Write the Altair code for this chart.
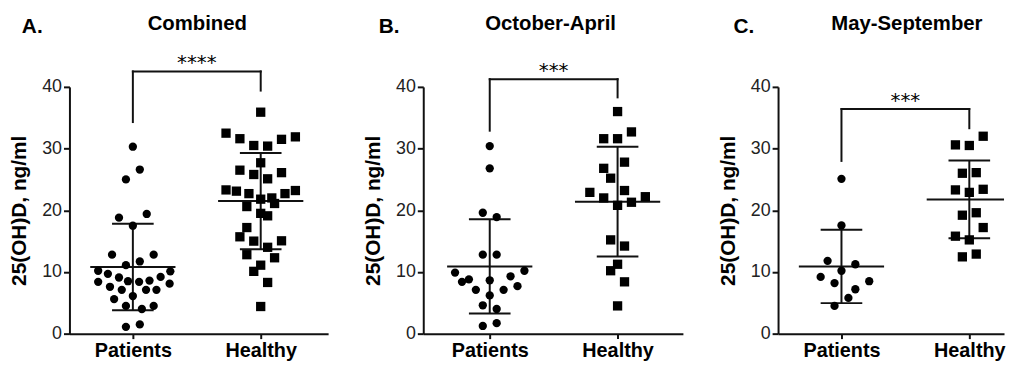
import altair as alt
import pandas as pd

FONT = "Liberation Sans"
INK = "#111111"

panel_titles = ["Combined", "October-April", "May-September"]
panel_letters = ["A.", "B.", "C."]
groups = ["Patients", "Healthy"]
group_pos = [1, 2]

# ---- values (ng/ml) and horizontal spread slots ----
a_patients = [30.3, 26.6, 25.0, 18.8, 19.4, 17.5, 12.8, 12.8, 11.1, 11.7, 10.2, 10.1, 9.7, 9.1,
              8.4, 8.5, 8.4, 8.6, 9.2, 8.1, 7.6, 7.1, 7.1, 7.1, 6.1, 5.6, 4.5, 4.5, 4.0, 1.1, 1.5]
a_patients_slot = [0, 1, -1, -2, 2, 0, -3, 3, -1, 1, -5, 5.4, -3.6, -2, -5, -0.7, 0.9, 2.4, 4,
                   5.3, -3.3, -1.6, 1.9, 3.4, 0, -2.7, -1, 3, 1.3, -1, 1]
a_healthy = [35.9, 32.5, 31.6, 31.9, 31.5, 30.5, 30.4, 27.7, 26.5, 26.1, 25.8, 25.1, 23.3, 23.1,
             22.7, 22.7, 23.2, 21.8, 22.0, 21.1, 20.6, 19.5, 19.1, 17.2, 15.7, 15.0, 15.05, 14.0,
             12.8, 12.3, 11.1, 10.1, 8.3, 4.4]
a_healthy_slot = [0, -5, -3, 5, 3, -1, 1, 0, -3, 3, -1, 1, -5, -3.5, -1.7, 3.5, 5, 0, 1.6, 2,
                  -2, 0, 1, -2, -3, -1, 3, 1, -2, 2, 0, -1, 1, 0]

b_patients = [30.4, 26.8, 19.6, 18.9, 12.8, 12.8, 9.9, 10.2, 8.4, 8.8, 8.65, 9.3, 7.7, 7.1, 7.1,
              6.2, 4.6, 4.0, 1.25, 1.7]
b_patients_slot = [0, 0, -1, 1, -1, 1, -5, 5, -4, -3, 0, 3, 4, -2, 2, 0, -1, 1, -1, 1]
b_healthy = [36.0, 32.7, 31.6, 31.6, 27.8, 26.8, 25.2, 23.2, 22.9, 22.0, 22.2, 20.8, 21.3, 15.2,
             14.2, 11.25, 10.2, 8.4, 4.5]
b_healthy_slot = [0, 2, -2, 0, 1, -2, -1, 1, -4, -2, 4, 0, 2, -1, 1, 0, -1, 1, 0]

c_patients = [25.1, 17.55, 11.8, 11.25, 10.2, 9.2, 8.2, 8.5, 7.2, 5.8, 4.5]
c_patients_slot = [0, 0, -2, 2, 0, -3, -1, 4, 2, 1, -1]
c_healthy = [32.0, 30.6, 30.5, 26.0, 26.1, 23.3, 23.4, 22.9, 19.2, 19.6, 17.2, 15.8, 15.2, 12.45, 12.9]
c_healthy_slot = [2, -2, 0, -1, 1, -2, 2, 0, -1, 1, 2, -2, 0, -1, 1]

# mean and SD per panel (as drawn)
mean_patients = [10.8, 10.9, 10.9]
sd_patients = [7.0, 7.65, 5.95]
mean_healthy = [21.5, 21.4, 21.75]
sd_healthy = [7.8, 8.9, 6.3]

# significance brackets (ng/ml levels)
bracket_top = [42.5, 41.25, 36.4]
bracket_left = [34.3, 32.9, 28.0]
bracket_right = [39.4, 38.3, 33.3]
stars = ["****", "***", "***"]

values = [(a_patients, a_patients_slot, a_healthy, a_healthy_slot),
          (b_patients, b_patients_slot, b_healthy, b_healthy_slot),
          (c_patients, c_patients_slot, c_healthy, c_healthy_slot)]

# ---- layout / style ----
PLOT_W = [261, 262, 228]
X0 = [0.504, 0.48, 0.504]
TITLE_DX = [-1.5, -2.5, 16]
LETTER_X = [-48, -45, -45]
PLOT_H = 249
PX_PER_UNIT = 129.0
SLOT = 7.0 / PX_PER_UNIT
MEAN_HALF = 43 / PX_PER_UNIT
CAP_HALF = 21 / PX_PER_UNIT


def make_panel(i):
    pv, ps, hv, hs = values[i]
    w = PLOT_W[i]
    xmin = X0[i]
    xmax = xmin + w / PX_PER_UNIT
    xscale = alt.Scale(domain=[xmin, xmax], nice=False, zero=False)
    yscale = alt.Scale(domain=[0, 40], nice=False, zero=True)
    xaxis = alt.Axis(values=group_pos, labelExpr="datum.value == 1 ? 'Patients' : 'Healthy'",
                     title=None, grid=False, domainColor=INK, domainWidth=2, tickColor=INK,
                     tickWidth=2, tickSize=5, labelFont=FONT, labelFontSize=20,
                     labelFontWeight="bold", labelColor="black", labelPadding=2,
                     labelFlush=False, labelOverlap=False)
    yaxis = alt.Axis(values=[0, 10, 20, 30, 40], title="25(OH)D, ng/ml", titleFont=FONT,
                     titleFontSize=21, titleFontWeight="bold", titleColor="black",
                     titlePadding=12, labelFont=FONT, labelFontSize=18, labelColor="#222222",
                     labelPadding=2, tickSize=6, tickWidth=2, tickColor=INK, domainWidth=2,
                     domainColor=INK, grid=False, labelFlush=False)

    def X(f):
        return alt.X(f, type="quantitative", scale=xscale, axis=xaxis)

    def Y(f):
        return alt.Y(f, type="quantitative", scale=yscale, axis=yaxis)

    pts = pd.DataFrame({
        "group": ["Patients"] * len(pv) + ["Healthy"] * len(hv),
        "value": pv + hv,
        "slot": ps + hs,
    })
    pts["x"] = pts["group"].map({"Patients": 1, "Healthy": 2}) + pts["slot"] * SLOT

    points = alt.Chart(pts).mark_point(filled=True, opacity=1, strokeWidth=0).encode(
        x=X("x"), y=Y("value"),
        shape=alt.Shape("group:N", scale=alt.Scale(domain=groups, range=["circle", "square"]), legend=None),
        size=alt.Size("group:N", scale=alt.Scale(domain=groups, range=[70, 88]), legend=None),
        color=alt.value("black"),
    )

    summ = pd.DataFrame({
        "group": groups,
        "xc": group_pos,
        "mean": [mean_patients[i], mean_healthy[i]],
        "sd": [sd_patients[i], sd_healthy[i]],
    })
    summ["lo"] = summ["mean"] - summ["sd"]
    summ["hi"] = summ["mean"] + summ["sd"]
    summ["xm1"] = summ["xc"] - MEAN_HALF
    summ["xm2"] = (summ["xc"] + MEAN_HALF).clip(upper=xmax)
    summ["xc1"] = summ["xc"] - CAP_HALF
    summ["xc2"] = summ["xc"] + CAP_HALF

    rule = dict(color=INK, strokeWidth=2)
    sbase = alt.Chart(summ)
    vert = sbase.mark_rule(**rule).encode(x=X("xc"), y=Y("lo"), y2="hi")
    cap_hi = sbase.mark_rule(**rule).encode(x=X("xc1"), x2="xc2", y=Y("hi"))
    cap_lo = sbase.mark_rule(**rule).encode(x=X("xc1"), x2="xc2", y=Y("lo"))
    mean_line = sbase.mark_rule(**rule).encode(x=X("xm1"), x2="xm2", y=Y("mean"))

    br = pd.DataFrame({
        "bx1": [group_pos[0]], "bx2": [group_pos[1]], "bxm": [sum(group_pos) / 2],
        "top": [bracket_top[i]], "lb": [bracket_left[i]], "rb": [bracket_right[i]],
        "stars": [stars[i]],
    })
    bbase = alt.Chart(br)
    brule = dict(color=INK, strokeWidth=2, strokeCap="square")
    b_h = bbase.mark_rule(**brule).encode(x=X("bx1"), x2="bx2", y=Y("top"))
    b_l = bbase.mark_rule(**brule).encode(x=X("bx1"), y=Y("lb"), y2="top")
    b_r = bbase.mark_rule(**brule).encode(x=X("bx2"), y=Y("rb"), y2="top")
    b_t = bbase.mark_text(font="DejaVu Sans", fontSize=20, baseline="alphabetic",
                          align="center", dy=-2, color="black").encode(
        x=X("bxm"), y=Y("top"), text="stars:N")

    lab = pd.DataFrame({"letter": [panel_letters[i]], "title": [panel_titles[i]]})
    letter = alt.Chart(lab).mark_text(font=FONT, fontSize=21, fontWeight="bold", align="left",
                                      baseline="alphabetic", color="black").encode(
        x=alt.value(LETTER_X[i]), y=alt.value(-54), text="letter:N")
    title = alt.Chart(lab).mark_text(font=FONT, fontSize=20.5, fontWeight="bold", align="center",
                                     baseline="alphabetic", color="black").encode(
        x=alt.value(w / 2 + TITLE_DX[i]), y=alt.value(-57), text="title:N")

    return alt.layer(vert, cap_hi, cap_lo, mean_line, points, b_h, b_l, b_r, b_t,
                     letter, title).properties(width=w, height=PLOT_H)


chart = alt.hconcat(make_panel(0), make_panel(1), make_panel(2), spacing=34).properties(
    padding={"left": 0, "top": 5, "right": 0, "bottom": 0}
).configure_view(stroke=None)

chart.save("out.html", embed_options={"renderer": "svg", "actions": False})
